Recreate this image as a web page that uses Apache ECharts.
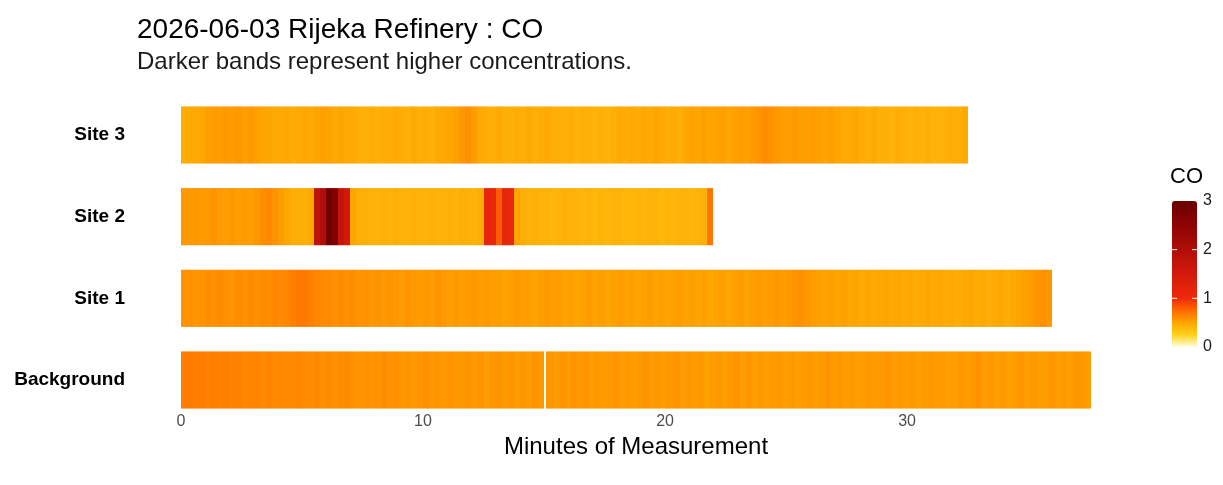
<!DOCTYPE html>
<html>
<head>
<meta charset="utf-8">
<script src="https://cdn.jsdelivr.net/npm/echarts@6/dist/echarts.min.js"></script>
<style>
  html, body { margin: 0; background: #fff; }
  #main { width: 1223px; height: 485px; }
</style>
</head>
<body>
<div id="main"></div>
<script>
// rows, bottom to top
var sites = ['Background', 'Site 1', 'Site 2', 'Site 3'];
// one reading every 15 seconds
var stepMin = 0.25;

var site3 = [
  0.46, 0.48, 0.47, 0.49, 0.52, 0.54, 0.53, 0.55, 0.54, 0.56, 0.53, 0.55,
  0.52, 0.50, 0.49, 0.48, 0.47, 0.49, 0.46, 0.48, 0.49, 0.47, 0.50, 0.52,
  0.51, 0.48, 0.50, 0.47, 0.47, 0.45, 0.44, 0.46, 0.44, 0.46, 0.45, 0.47,
  0.46, 0.44, 0.47, 0.45, 0.46, 0.44, 0.47, 0.49, 0.50, 0.52, 0.56, 0.59,
  0.54, 0.48, 0.46, 0.45, 0.47, 0.45, 0.44, 0.46, 0.45, 0.47, 0.44, 0.46,
  0.48, 0.46, 0.45, 0.44, 0.46, 0.43, 0.45, 0.44, 0.43, 0.44, 0.43, 0.45,
  0.47, 0.45, 0.48, 0.46, 0.49, 0.47, 0.50, 0.48, 0.46, 0.48, 0.45, 0.49,
  0.51, 0.49, 0.52, 0.50, 0.51, 0.53, 0.50, 0.52, 0.54, 0.52, 0.55, 0.57,
  0.60, 0.59, 0.56, 0.54, 0.53, 0.55, 0.53, 0.52, 0.54, 0.52, 0.51, 0.53,
  0.50, 0.48, 0.47, 0.49, 0.46, 0.45, 0.47, 0.44, 0.45, 0.43, 0.46, 0.44,
  0.43, 0.44, 0.43, 0.45, 0.43, 0.42, 0.44, 0.46, 0.45, 0.47
];

var site2 = [
  0.56, 0.55, 0.56, 0.54, 0.55, 0.57, 0.54, 0.53, 0.55, 0.52, 0.54, 0.53,
  0.56, 0.60, 0.62, 0.58, 0.54, 0.49, 0.46, 0.45, 0.44, 0.47, 1.80, 2.00,
  2.90, 2.70, 1.70, 1.50, 0.50, 0.45, 0.44, 0.43, 0.42, 0.44, 0.43, 0.45,
  0.43, 0.42, 0.44, 0.43, 0.42, 0.44, 0.43, 0.42, 0.44, 0.43, 0.45, 0.44,
  0.43, 0.45, 1.15, 1.10, 0.80, 1.15, 1.10, 0.50, 0.45, 0.43, 0.44, 0.42,
  0.43, 0.41, 0.42, 0.44, 0.42, 0.43, 0.41, 0.42, 0.40, 0.42, 0.41, 0.43,
  0.42, 0.40, 0.41, 0.42, 0.41, 0.43, 0.42, 0.40, 0.42, 0.41, 0.43, 0.42,
  0.41, 0.42, 0.44, 0.70
];

var site1 = [
  0.57, 0.59, 0.56, 0.58, 0.60, 0.58, 0.61, 0.59, 0.57, 0.60, 0.58, 0.61,
  0.59, 0.62, 0.60, 0.63, 0.61, 0.63, 0.66, 0.68, 0.69, 0.66, 0.63, 0.61,
  0.62, 0.59, 0.61, 0.58, 0.60, 0.57, 0.59, 0.56, 0.58, 0.55, 0.57, 0.56,
  0.54, 0.57, 0.55, 0.53, 0.56, 0.54, 0.57, 0.55, 0.53, 0.55, 0.52, 0.54,
  0.56, 0.53, 0.55, 0.52, 0.54, 0.51, 0.53, 0.55, 0.52, 0.54, 0.51, 0.53,
  0.55, 0.52, 0.54, 0.51, 0.53, 0.50, 0.52, 0.54, 0.51, 0.53, 0.50, 0.52,
  0.54, 0.51, 0.53, 0.50, 0.52, 0.54, 0.51, 0.53, 0.50, 0.52, 0.54, 0.51,
  0.53, 0.50, 0.52, 0.49, 0.51, 0.53, 0.50, 0.52, 0.54, 0.51, 0.53, 0.55,
  0.52, 0.54, 0.56, 0.53, 0.55, 0.57, 0.59, 0.56, 0.54, 0.52, 0.51, 0.53,
  0.50, 0.52, 0.49, 0.51, 0.48, 0.50, 0.47, 0.49, 0.51, 0.48, 0.50, 0.47,
  0.49, 0.46, 0.48, 0.50, 0.47, 0.49, 0.46, 0.48, 0.45, 0.47, 0.49, 0.46,
  0.48, 0.45, 0.47, 0.49, 0.46, 0.48, 0.50, 0.52, 0.54, 0.57, 0.59, 0.56
];

// background run is split by a short dropout at 15 min
var bgStartA = 0;
var bgStartB = 15.1;
var backgroundA = [
  0.67, 0.68, 0.66, 0.67, 0.65, 0.67, 0.64, 0.66, 0.64, 0.65, 0.63, 0.64,
  0.65, 0.62, 0.64, 0.62, 0.63, 0.61, 0.62, 0.64, 0.61, 0.60, 0.62, 0.59,
  0.61, 0.58, 0.60, 0.61, 0.59, 0.57, 0.59, 0.57, 0.58, 0.60, 0.57, 0.59,
  0.56, 0.58, 0.55, 0.57, 0.59, 0.56, 0.58, 0.55, 0.57, 0.55, 0.56, 0.58,
  0.55, 0.57, 0.54, 0.56, 0.58, 0.55, 0.57, 0.54, 0.56, 0.54, 0.57, 0.55
];
var backgroundB = [
  0.56, 0.54, 0.57, 0.55, 0.58, 0.55, 0.57, 0.54, 0.56, 0.53, 0.55, 0.57,
  0.54, 0.56, 0.53, 0.55, 0.57, 0.54, 0.56, 0.53, 0.55, 0.57, 0.54, 0.56,
  0.53, 0.55, 0.52, 0.54, 0.56, 0.53, 0.55, 0.57, 0.54, 0.56, 0.53, 0.55,
  0.52, 0.54, 0.56, 0.53, 0.55, 0.52, 0.54, 0.56, 0.53, 0.55, 0.57, 0.54,
  0.56, 0.53, 0.55, 0.52, 0.54, 0.56, 0.53, 0.55, 0.57, 0.54, 0.56, 0.53,
  0.55, 0.52, 0.54, 0.56, 0.53, 0.55, 0.52, 0.54, 0.56, 0.53, 0.55, 0.57,
  0.54, 0.56, 0.53, 0.55, 0.52, 0.54, 0.56, 0.53, 0.55, 0.53, 0.54, 0.56,
  0.54, 0.55, 0.53, 0.56, 0.55, 0.54
];

var legendTicks = [0, 1, 2, 3];
var coColors = [
  '#FFFFE0', '#FFD21A', '#FFA500', '#FF6A00', '#F02A0A', '#E1220A', '#D21A0A',
  '#C1140A', '#B00E08', '#9F0906', '#8E0404', '#7C0202', '#6A0000'
];

var cells = [];
function addRun(site, start, values) {
  var row = sites.indexOf(site);
  values.forEach(function (v, i) {
    cells.push([start + i * stepMin, row, v]);
  });
}
addRun('Site 3', 0, site3);
addRun('Site 2', 0, site2);
addRun('Site 1', 0, site1);
addRun('Background', bgStartA, backgroundA);
addRun('Background', bgStartB, backgroundB);

var font = '"Liberation Sans", Arial, sans-serif';
var barTop = 201, barH = 146, barLeft = 1172, barW = 25;

var graphics = [{
  type: 'text', left: 1170, top: 166,
  style: { text: 'CO', fontSize: 22, fontFamily: font, fill: '#000' }
}];
legendTicks.forEach(function (v) {
  var y = barTop + (3 - v) / 3 * barH;
  graphics.push({
    type: 'text', x: 1203, y: y,
    style: { text: String(v), fontSize: 16, fontFamily: font, fill: '#1a1a1a', verticalAlign: 'middle' }
  });
  if (v > 0 && v < 3) {
    graphics.push({ type: 'line', z: 100, shape: { x1: barLeft, y1: y, x2: barLeft + 5, y2: y }, style: { stroke: '#fff', lineWidth: 1 } });
    graphics.push({ type: 'line', z: 100, shape: { x1: barLeft + barW - 5, y1: y, x2: barLeft + barW, y2: y }, style: { stroke: '#fff', lineWidth: 1 } });
  }
});

var chart = echarts.init(document.getElementById('main'));
chart.setOption({
  backgroundColor: '#fff',
  animation: false,
  title: {
    text: '2026-06-03 Rijeka Refinery : CO',
    subtext: 'Darker bands represent higher concentrations.',
    left: 137, top: 16, padding: 0, itemGap: 6,
    textStyle: { fontSize: 28, fontWeight: 'normal', color: '#000', fontFamily: font },
    subtextStyle: { fontSize: 24, color: '#1a1a1a', fontFamily: font }
  },
  grid: { left: 181, top: 135, width: 910, height: 245 },
  xAxis: {
    type: 'value', min: 0, max: 37.6, interval: 10,
    axisLine: { show: false }, axisTick: { show: false }, splitLine: { show: false },
    axisLabel: { color: '#4d4d4d', fontSize: 16, margin: 34, fontFamily: font, showMaxLabel: false },
    name: 'Minutes of Measurement', nameLocation: 'middle', nameGap: 54,
    nameTextStyle: { fontSize: 24, color: '#000', fontFamily: font }
  },
  yAxis: {
    type: 'category', data: sites, boundaryGap: false,
    axisLine: { show: false }, axisTick: { show: false }, splitLine: { show: false },
    axisLabel: { color: '#000', fontSize: 19, fontWeight: 'bold', margin: 56, fontFamily: font }
  },
  visualMap: {
    type: 'continuous', min: 0, max: 3, dimension: 2, seriesIndex: 0,
    orient: 'vertical', left: barLeft, top: barTop, itemWidth: barW, itemHeight: barH,
    padding: 0, calculable: false, hoverLink: false,
    inRange: { color: coColors }
  },
  graphic: graphics,
  series: [{
    type: 'custom',
    data: cells,
    encode: { x: 0, y: 1 },
    renderItem: function (params, api) {
      var x0 = api.value(0), row = api.value(1);
      var p0 = api.coord([x0, row]);
      var p1 = api.coord([x0 + stepMin, row]);
      var h = api.size([0, 1])[1] * 0.7;
      var l = Math.round(p0[0]), r = Math.round(p1[0]);
      return {
        type: 'rect',
        shape: { x: l, y: p0[1] - h / 2, width: r - l, height: h },
        style: { fill: api.visual('color') }
      };
    }
  }]
});
</script>
</body>
</html>
